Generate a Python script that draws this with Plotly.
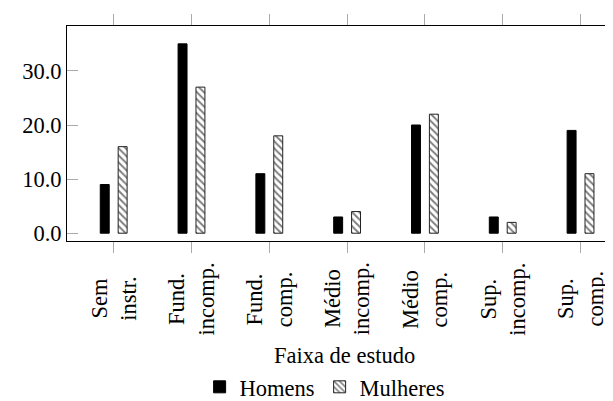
import plotly.graph_objects as go

categories = ["Sem<br>instr.", "Fund.<br>incomp.", "Fund.<br>comp.", "Médio<br>incomp.",
              "Médio<br>comp.", "Sup.<br>incomp.", "Sup.<br>comp."]
homens = [9, 35, 11, 3, 20, 3, 19]
mulheres = [16, 27, 18, 4, 22, 2, 11]
y_ticks = [0, 10, 20, 30]
x_title = "Faixa de estudo"

FONT = "'Liberation Serif', 'Times New Roman', serif"
FS = 22.5
idx = list(range(len(categories)))

fig = go.Figure()
fig.add_trace(go.Bar(x=idx, y=homens, name="Homens",
                     marker=dict(color="black", line=dict(color="black", width=1))))
fig.add_trace(go.Bar(x=idx, y=mulheres, name="Mulheres",
                     marker=dict(color="white", line=dict(color="#222222", width=1),
                                 pattern=dict(shape="\\", fgcolor="black", bgcolor="white",
                                              size=5, solidity=0.4))))

for i, c in enumerate(categories):
    fig.add_annotation(x=i, xref="x", y=-0.27, yref="paper", text=c, textangle=-90,
                       showarrow=False, xanchor="center", yanchor="middle", align="center",
                       font=dict(family=FONT, size=FS, color="black"))

fig.add_annotation(x=0.5, xref="paper", y=-0.534, yref="paper", text=x_title,
                   showarrow=False, xanchor="center", yanchor="middle",
                   font=dict(family=FONT, size=FS, color="black"))

fig.update_layout(
    width=613, height=401,
    margin=dict(l=59, r=0, t=18, b=162),
    paper_bgcolor="white", plot_bgcolor="white",
    font=dict(family=FONT, size=FS, color="black"),
    barmode="group", bargap=0.54, bargroupgap=0.5,
    showlegend=True,
    legend=dict(orientation="h", x=0.465, xanchor="center", y=-0.68, yanchor="middle",
                font=dict(family=FONT, size=FS), bgcolor="rgba(0,0,0,0)",
                itemwidth=30, tracegroupgap=0),
    xaxis=dict(range=[-0.6, 6.52], tickmode="array", tickvals=idx, showticklabels=False,
               ticks="outside", ticklen=11, tickcolor="#aaaaaa", tickwidth=1,
               showline=True, linecolor="black", linewidth=1, mirror="ticks",
               showgrid=False, zeroline=False, fixedrange=True),
    yaxis=dict(range=[-1.44, 38.3], tickmode="array", tickvals=y_ticks, tickformat=".1f",
               ticks="inside", ticklen=11, tickcolor="#aaaaaa", tickwidth=1,
               showline=True, linecolor="black", linewidth=1, mirror=False,
               showgrid=False, zeroline=False, fixedrange=True),
    yaxis2=dict(range=[-1.44, 38.3], overlaying="y", side="right", tickmode="array",
                tickvals=y_ticks, showticklabels=False, ticks="inside", ticklen=5,
                tickcolor="#aaaaaa", tickwidth=1, showline=False, showgrid=False,
                zeroline=False, fixedrange=True),
)

fig.write_html("out.html")
